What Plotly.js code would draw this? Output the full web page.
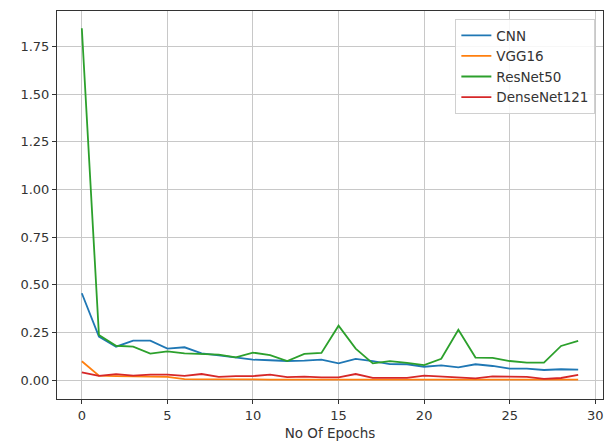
<!DOCTYPE html>
<html>
<head>
<meta charset="utf-8">
<script src="https://cdn.plot.ly/plotly-3.0.1.min.js"></script>
<style>html,body{margin:0;padding:0;background:#fff;}</style>
</head>
<body>
<div id="chart" style="width:605px;height:442px;"></div>
<script>
const epochs = Array.from({length: 30}, (_, i) => i);
const cnn = [0.456, 0.229, 0.176, 0.208, 0.208, 0.166, 0.173, 0.141, 0.131, 0.120,
             0.108, 0.105, 0.101, 0.103, 0.108, 0.089, 0.112, 0.101, 0.085, 0.084,
             0.071, 0.078, 0.068, 0.084, 0.075, 0.061, 0.061, 0.054, 0.058, 0.056];
const vgg16 = [0.100, 0.024, 0.022, 0.020, 0.018, 0.018, 0.006, 0.005, 0.005, 0.004,
               0.004, 0.004, 0.004, 0.004, 0.004, 0.003, 0.003, 0.003, 0.003, 0.003,
               0.003, 0.003, 0.003, 0.003, 0.003, 0.003, 0.003, 0.003, 0.003, 0.003];
const resnet50 = [1.845, 0.237, 0.181, 0.176, 0.140, 0.152, 0.141, 0.136, 0.134, 0.120,
                  0.145, 0.132, 0.101, 0.138, 0.143, 0.286, 0.166, 0.089, 0.100, 0.091,
                  0.080, 0.113, 0.265, 0.119, 0.117, 0.101, 0.093, 0.093, 0.180, 0.206];
const densenet121 = [0.042, 0.023, 0.032, 0.025, 0.030, 0.030, 0.023, 0.033, 0.018, 0.022,
                     0.022, 0.030, 0.017, 0.019, 0.015, 0.015, 0.033, 0.013, 0.013, 0.013,
                     0.024, 0.020, 0.015, 0.010, 0.020, 0.018, 0.018, 0.007, 0.012, 0.028];
const seriesNames = ["CNN", "VGG16", "ResNet50", "DenseNet121"];
const seriesData = [cnn, vgg16, resnet50, densenet121];
const colors = ["#1f77b4", "#ff7f0e", "#2ca02c", "#d62728"];
const xTicks = [0, 5, 10, 15, 20, 25, 30];
const yTicks = [0, 0.25, 0.5, 0.75, 1.0, 1.25, 1.5, 1.75];

const traces = seriesNames.map((n, k) => ({
  x: epochs, y: seriesData[k], name: n, type: "scatter", mode: "lines",
  line: {color: colors[k], width: 1.8}
}));

const axisCommon = {
  showline: true, mirror: true, linecolor: "#333", linewidth: 1,
  showgrid: true, gridcolor: "#c8c8c8", gridwidth: 1,
  zeroline: false, ticks: "outside", ticklen: 4, tickwidth: 1, tickcolor: "#333",
  tickfont: {family: "DejaVu Sans", size: 13, color: "#333"}
};

const layout = {
  width: 605, height: 442,
  margin: {l: 57, r: 2, t: 11, b: 43},
  paper_bgcolor: "#fff", plot_bgcolor: "#fff",
  font: {family: "DejaVu Sans", color: "#333"},
  xaxis: Object.assign({}, axisCommon, {
    range: [-1.45, 30.45], tickvals: xTicks, ticktext: xTicks.map(String),
    title: {text: "No Of Epochs", font: {family: "DejaVu Sans", size: 13.5, color: "#333"}, standoff: 6}
  }),
  yaxis: Object.assign({}, axisCommon, {
    range: [-0.098, 1.935], tickvals: yTicks, ticktext: yTicks.map(v => v.toFixed(2))
  }),
  legend: {
    x: 0.986, xanchor: "right", y: 0.979, yanchor: "top",
    bgcolor: "rgba(255,255,255,0.85)", bordercolor: "#d0d0d0", borderwidth: 1,
    font: {family: "DejaVu Sans", size: 13.5, color: "#333"},
    itemwidth: 30, tracegroupgap: 0
  },
  showlegend: true
};

Plotly.newPlot("chart", traces, layout, {displayModeBar: false, staticPlot: true});
</script>
</body>
</html>
